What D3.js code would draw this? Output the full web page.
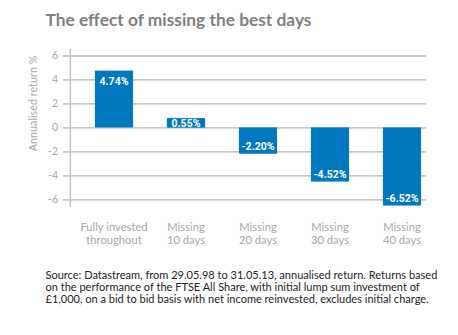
<!DOCTYPE html>
<html>
<head>
<meta charset="utf-8">
<script src="https://cdn.jsdelivr.net/npm/d3@7"></script>
<style>
  html, body { margin: 0; padding: 0; background: #fff; }
  svg { display: block; }
</style>
</head>
<body>
<svg id="chart" width="458" height="335"></svg>
<script>
const categories = [["Fully invested", "throughout"], ["Missing", "10 days"], ["Missing", "20 days"], ["Missing", "30 days"], ["Missing", "40 days"]];
const values = [4.74, 0.55, -2.20, -4.52, -6.52];
const valueLabels = ["4.74%", "0.55%", "-2.20%", "-4.52%", "-6.52%"];
const yTicks = [6, 4, 2, 0, -2, -4, -6];
const title = "The effect of missing the best days";
const yTitle = "Annualised return %";
const sourceLines = [
  "Source: Datastream, from 29.05.98 to 31.05.13, annualised return. Returns based",
  "on the performance of the FTSE All Share, with initial lump sum investment of",
  "£1,000, on a bid to bid basis with net income reinvested, excludes initial charge."
];

const svg = d3.select("#chart");
const blue = "#0078c0";

const x = d3.scaleBand().domain(d3.range(values.length)).range([78, 438]).paddingInner(0.47).paddingOuter(0.235);
const y = d3.scaleLinear().domain([-6, 6]).range([199.3, 55.5]);

function fitText(sel, target) {
  const node = sel.node();
  const fs = parseFloat(sel.attr("font-size"));
  const w = node.getComputedTextLength();
  if (w > 0) sel.attr("font-size", (fs * target / w).toFixed(2));
}

// Title
const t = svg.append("text").attr("x", 45.5).attr("y", 25.7)
  .attr("font-family", "Lato, 'Open Sans', sans-serif").attr("font-weight", "bold")
  .attr("font-size", 16).attr("fill", "#7f7f80").text(title);
fitText(t, 266);

// Gridlines + ticks
const yAxis = d3.axisLeft(y).tickValues(yTicks).tickSize(-(426 - 63)).tickPadding(5).tickFormat(d3.format("d"));
const gAxis = svg.append("g").attr("transform", "translate(63,0)").call(yAxis);
gAxis.select(".domain").remove();
gAxis.selectAll(".tick line").attr("stroke", "#b4b4b4").attr("stroke-width", 1.3);
gAxis.selectAll(".tick text").attr("fill", "#a8a8a8").attr("font-size", 10.5)
  .attr("font-family", "Lato, 'Open Sans', sans-serif").attr("x", -5).text(d => d);

// Vertical axis line
svg.append("line").attr("x1", 70.3).attr("x2", 70.3).attr("y1", 48.5).attr("y2", 207)
  .attr("stroke", "#c4c4c4").attr("stroke-width", 1.6);

// Bars
svg.append("g").selectAll("rect").data(values).join("rect")
  .attr("x", (d, i) => x(i)).attr("width", x.bandwidth())
  .attr("y", d => d >= 0 ? y(d) : y(0))
  .attr("height", d => Math.abs(y(d) - y(0)))
  .attr("fill", blue);

// Value labels
const lg = svg.append("g");
values.forEach((d, i) => {
  const h = Math.abs(y(d) - y(0));
  let cy;
  if (d >= 0) {
    cy = h < 14 ? y(0) - 4.3 : y(d) + 11;
  } else {
    cy = y(d) - 7.5;
  }
  if (d >= 0 && h < 14) {
    lg.append("rect").attr("x", x(i)).attr("width", x.bandwidth())
      .attr("y", cy - 5).attr("height", y(0) - (cy - 5)).attr("fill", blue);
  }
  lg.append("text").attr("x", x(i) + x.bandwidth() / 2).attr("y", cy)
    .attr("dy", "0.36em").attr("text-anchor", "middle")
    .attr("font-family", "Roboto, sans-serif").attr("font-weight", "bold")
    .attr("font-size", 10.5).attr("fill", "#fff").text(valueLabels[i]);
});

// X labels
categories.forEach((c, i) => {
  const tx = svg.append("text").attr("x", x(i) + x.bandwidth() / 2).attr("text-anchor", "middle")
    .attr("font-family", "Lato, 'Open Sans', sans-serif").attr("font-size", 11.2).attr("fill", "#a8a8a8");
  c.forEach((line, j) => {
    tx.append("tspan").attr("x", x(i) + x.bandwidth() / 2).attr("y", 230.5 + j * 13.5).text(line);
  });
});

// Y title
svg.append("text").attr("transform", "translate(36.5,103.5) rotate(-90)")
  .attr("text-anchor", "middle").attr("font-family", "Lato, 'Open Sans', sans-serif")
  .attr("font-size", 10.8).attr("fill", "#a8a8a8").text(yTitle);

// Source
const sg = svg.append("g");
sourceLines.forEach((line, j) => {
  sg.append("text").attr("x", 45.5).attr("y", 278.8 + j * 12)
    .attr("font-family", "Lato, 'Open Sans', sans-serif").attr("font-size", 11)
    .attr("fill", "#222").text(line);
});
const first = sg.select("text");
const w0 = first.node().getComputedTextLength();
const fsz = (11 * 392 / w0).toFixed(2);
sg.selectAll("text").attr("font-size", fsz);
</script>
</body>
</html>
